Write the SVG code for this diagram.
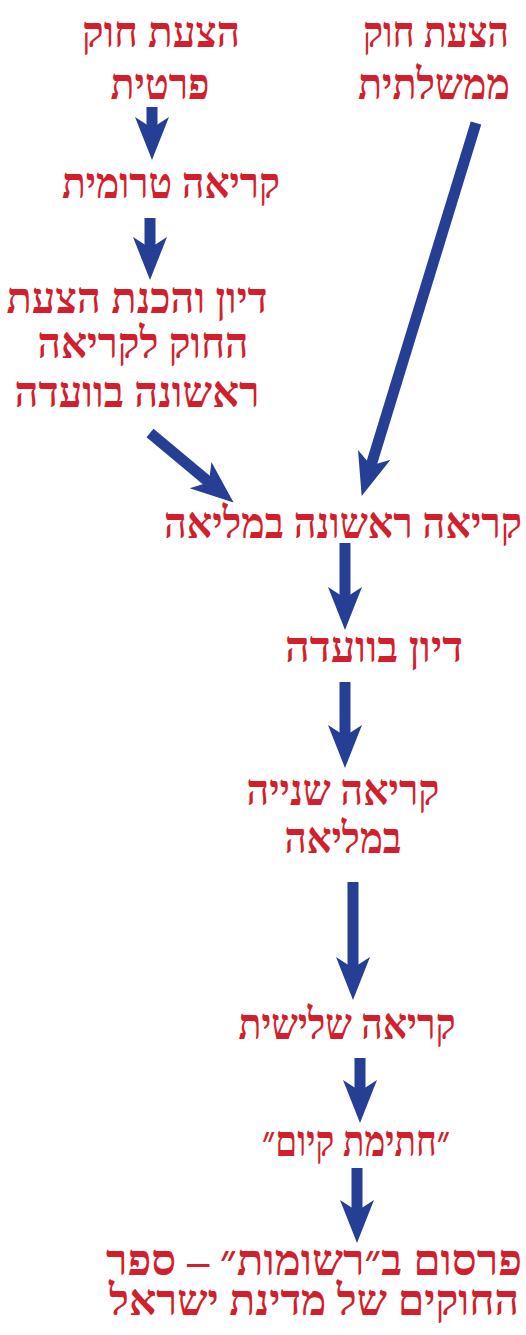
<svg xmlns="http://www.w3.org/2000/svg" width="526" height="1335" viewBox="0 0 526 1335">
<style>
.t{font-family:"Liberation Serif","DejaVu Serif",serif;font-weight:bold;font-size:43px;fill:#d21f2d;text-anchor:middle;direction:rtl}
.c line{stroke:#263f95;stroke-width:11;fill:none}
</style>
<defs>
<marker id="ah" markerUnits="userSpaceOnUse" orient="auto" markerWidth="60" markerHeight="60" refX="20" refY="0" viewBox="-5 -25 60 50" overflow="visible">
<path d="M0,-17 L43,0 L0,17 L11,0 Z" fill="#263f95"/>
</marker>
</defs>
<rect width="526" height="1335" fill="#ffffff"/>
<g id="n-private"><text class="t" x="161" y="47" textLength="158" lengthAdjust="spacingAndGlyphs">הצעת חוק</text><text class="t" x="160" y="99" textLength="99" lengthAdjust="spacingAndGlyphs">פרטית</text></g>
<g id="n-gov"><text class="t" x="436" y="47" textLength="146" lengthAdjust="spacingAndGlyphs">הצעת חוק</text><text class="t" x="434" y="99" textLength="152" lengthAdjust="spacingAndGlyphs">ממשלתית</text></g>
<g id="n-preliminary"><text class="t" x="171" y="198" textLength="218" lengthAdjust="spacingAndGlyphs">קריאה טרומית</text></g>
<g id="n-committee1"><text class="t" x="137" y="313" textLength="261" lengthAdjust="spacingAndGlyphs">דיון והכנת הצעת</text><text class="t" x="143" y="358" textLength="211" lengthAdjust="spacingAndGlyphs">החוק לקריאה</text><text class="t" x="137" y="407" textLength="245" lengthAdjust="spacingAndGlyphs">ראשונה בוועדה</text></g>
<g id="n-first"><text class="t" x="343" y="538" textLength="358" lengthAdjust="spacingAndGlyphs">קריאה ראשונה במליאה</text></g>
<g id="n-committee2"><text class="t" x="374" y="662" textLength="178" lengthAdjust="spacingAndGlyphs">דיון בוועדה</text></g>
<g id="n-second"><text class="t" x="343" y="805" textLength="193" lengthAdjust="spacingAndGlyphs">קריאה שנייה</text><text class="t" x="343" y="853" textLength="117" lengthAdjust="spacingAndGlyphs">במליאה</text></g>
<g id="n-third"><text class="t" x="347" y="1039" textLength="217" lengthAdjust="spacingAndGlyphs">קריאה שלישית</text></g>
<g id="n-sign"><text class="t" x="356" y="1156" textLength="188" lengthAdjust="spacingAndGlyphs">״חתימת קיום״</text></g>
<g id="n-publish"><text class="t" x="314" y="1275" textLength="416" lengthAdjust="spacingAndGlyphs">פרסום ב״רשומות״ – ספר</text><text class="t" x="314" y="1315" textLength="410" lengthAdjust="spacingAndGlyphs">החוקים של מדינת ישראל</text></g>
<g id="connectors" class="c">
<line x1="152" y1="107" x2="152" y2="137" marker-end="url(#ah)"/>
<line x1="150" y1="218" x2="150" y2="257" marker-end="url(#ah)"/>
<line x1="476" y1="123" x2="368.4" y2="474" marker-end="url(#ah)"/>
<line x1="150" y1="433" x2="215.9" y2="487.9" marker-end="url(#ah)"/>
<line x1="345" y1="543" x2="345" y2="607" marker-end="url(#ah)"/>
<line x1="345" y1="682" x2="345" y2="745" marker-end="url(#ah)"/>
<line x1="353" y1="882" x2="353" y2="977" marker-end="url(#ah)"/>
<line x1="360" y1="1058" x2="360" y2="1100" marker-end="url(#ah)"/>
<line x1="357" y1="1168" x2="357" y2="1220" marker-end="url(#ah)"/>
</g>
</svg>
